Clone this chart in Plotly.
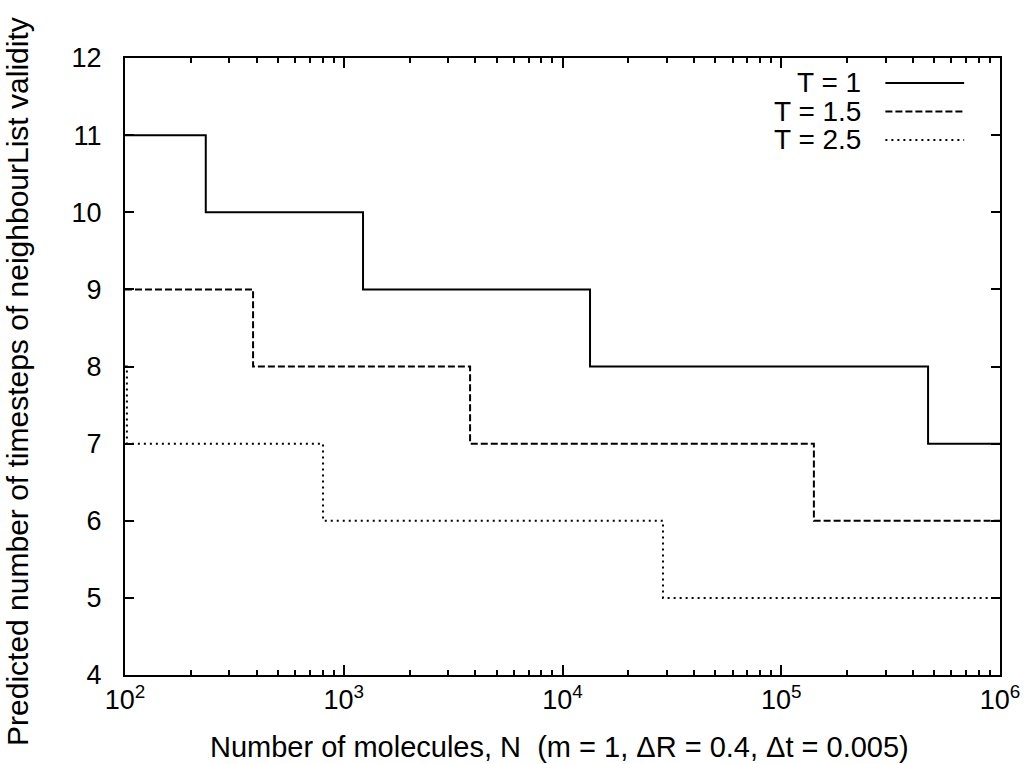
import plotly.graph_objects as go

# step change points (N where the predicted count drops)
n_t1 = [100, 234, 1225, 13360, 469000, 1000000]
steps_t1 = [11, 10, 9, 8, 7, 7]

n_t15 = [100, 385, 3780, 141000, 1000000]
steps_t15 = [9, 8, 7, 6, 6]

n_t25 = [100, 102, 804, 28800, 1000000]
steps_t25 = [8, 7, 6, 5, 5]

series_names = ["T = 1", "T = 1.5", "T = 2.5"]
dashes = ["solid", "7px,3px", "2px,4px"]

x_tick_vals = [1e2, 1e3, 1e4, 1e5, 1e6]
x_tick_text = ["10<sup>2</sup>", "10<sup>3</sup>", "10<sup>4</sup>",
               "10<sup>5</sup>", "10<sup>6</sup>"]
# log minor ticks 2..9 in each decade
x_minor_vals = [m * 10 ** d for d in range(2, 6) for m in range(2, 10)]

x_title = "Number of molecules, N  (m = 1, \u0394R = 0.4, \u0394t = 0.005)"
y_title = "Predicted number of timesteps of neighbourList validity"

fnt = "Liberation Sans"

fig = go.Figure()
all_x = [n_t1, n_t15, n_t25]
all_y = [steps_t1, steps_t15, steps_t25]
for i in range(3):
    fig.add_trace(go.Scatter(x=all_x[i], y=all_y[i], mode="lines",
                             line=dict(color="black", width=2, dash=dashes[i], shape="hv"),
                             name=series_names[i], showlegend=False))

# gnuplot style key: text right aligned, sample line on the right
for i in range(3):
    yy = 0.9595 - i * 0.0462
    fig.add_annotation(x=0.843, y=yy, xref="paper", yref="paper", text=series_names[i],
                       showarrow=False, xanchor="right", yanchor="middle",
                       font=dict(size=28, color="black", family=fnt))
    fig.add_shape(type="line", xref="paper", yref="paper", x0=0.869, x1=0.959, y0=yy, y1=yy,
                  line=dict(color="black", width=2, dash=dashes[i]))

# axis titles placed as annotations so they sit where gnuplot put them
fig.add_annotation(x=0.497, y=-0.117, xref="paper", yref="paper", text=x_title,
                   showarrow=False, xanchor="center", yanchor="middle",
                   font=dict(size=29, color="black", family=fnt))
fig.add_annotation(x=-0.1223, y=0.4765, xref="paper", yref="paper", text=y_title,
                   showarrow=False, xanchor="center", yanchor="middle", textangle=-90,
                   font=dict(size=30, color="black", family=fnt))

fig.update_layout(
    xaxis=dict(type="log", range=[2, 6], tickmode="array", tickvals=x_tick_vals, ticktext=x_tick_text,
               ticks="inside", ticklen=10, tickwidth=1.5, tickcolor="black",
               minor=dict(tickmode="array", tickvals=x_minor_vals, ticks="inside", ticklen=5,
                          tickwidth=1.5, tickcolor="black"),
               showline=True, linecolor="black", linewidth=2, mirror="allticks",
               showgrid=False, zeroline=False,
               tickfont=dict(size=27, family=fnt, color="black")),
    yaxis=dict(range=[4, 12], dtick=1, ticks="inside", ticklen=9, tickwidth=1.5, tickcolor="black",
               ticklabelstandoff=16,
               showline=True, linecolor="black", linewidth=2, mirror="allticks",
               showgrid=False, zeroline=False,
               tickfont=dict(size=27, family=fnt, color="black")),
    width=1026, height=764, plot_bgcolor="white", paper_bgcolor="white",
    margin=dict(l=125, r=26, t=58, b=89, autoexpand=False), showlegend=False)

fig.write_html("out.html", config={"displayModeBar": False},
               post_script="document.body.style.margin='0';")
